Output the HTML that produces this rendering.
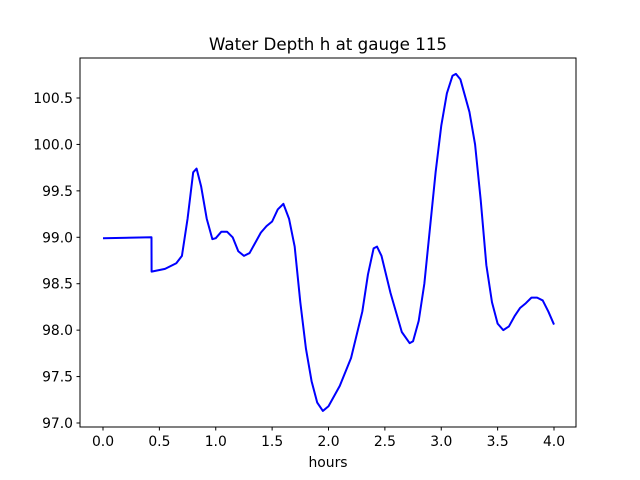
<!DOCTYPE html>
<html><head><meta charset="utf-8"><style>body{margin:0;background:#fff}svg{display:block;font-family:"DejaVu Sans","Liberation Sans",sans-serif}</style></head>
<body>
<svg id="chart" width="640" height="480" xmlns="http://www.w3.org/2000/svg">
<rect width="640" height="480" fill="#fff"/>
<text x="328" y="50" font-size="16.7" text-anchor="middle">Water Depth h at gauge 115</text>
<g id="plot"></g>
<rect x="80" y="58" width="496" height="369" fill="none" stroke="#000" stroke-width="1"/>
<text x="328" y="467" font-size="13.9" text-anchor="middle">hours</text>
</svg>
<script>
const hours=[0,0.43,0.431,0.55,0.65,0.7,0.75,0.8,0.83,0.87,0.92,0.97,1.0,1.05,1.1,1.15,1.2,1.25,1.3,1.4,1.45,1.5,1.55,1.6,1.65,1.7,1.75,1.8,1.85,1.9,1.95,2.0,2.1,2.2,2.3,2.35,2.4,2.43,2.47,2.55,2.65,2.72,2.75,2.8,2.85,2.9,2.95,3.0,3.05,3.1,3.13,3.17,3.25,3.3,3.35,3.4,3.45,3.5,3.55,3.6,3.65,3.7,3.75,3.8,3.85,3.9,3.95,4.0];
const depth=[98.99,99.0,98.63,98.66,98.72,98.8,99.2,99.7,99.74,99.55,99.2,98.98,98.99,99.06,99.06,99.0,98.85,98.8,98.83,99.05,99.12,99.17,99.3,99.36,99.2,98.9,98.3,97.8,97.45,97.22,97.13,97.18,97.4,97.7,98.2,98.6,98.88,98.9,98.8,98.4,97.98,97.86,97.88,98.1,98.5,99.1,99.7,100.2,100.55,100.74,100.76,100.7,100.35,100.0,99.4,98.7,98.3,98.07,98.0,98.04,98.15,98.24,98.29,98.35,98.35,98.32,98.2,98.06];
const xTicks=[0,0.5,1,1.5,2,2.5,3,3.5,4];
const xTickLabels=["0.0","0.5","1.0","1.5","2.0","2.5","3.0","3.5","4.0"];
const yTicks=[97,97.5,98,98.5,99,99.5,100,100.5];
const yTickLabels=["97.0","97.5","98.0","98.5","99.0","99.5","100.0","100.5"];
const X=v=>103+v*112.75;
const Y=v=>423-(v-97)*92.857;
const g=document.getElementById('plot');
const NS="http://www.w3.org/2000/svg";
function mk(t,a){const e=document.createElementNS(NS,t);for(const k in a)e.setAttribute(k,a[k]);g.appendChild(e);return e;}
xTicks.forEach((t,i)=>{
 const l=mk('line',{x1:X(t),x2:X(t),y1:427,y2:430.5,stroke:'#000'});
 
 
 const s=mk('text',{x:X(t),y:446,'font-size':13.9,'text-anchor':'middle'});
 s.textContent=xTickLabels[i];
 
 
});
yTicks.forEach((t,i)=>{
 const l=mk('line',{x1:76.5,x2:80,y1:Y(t),y2:Y(t),stroke:'#000'});
 
 
 const s=mk('text',{x:73,y:Y(t)+5,'font-size':13.9,'text-anchor':'end'});
 s.textContent=yTickLabels[i];
 
 
});
const p=mk('polyline',{points:hours.map((h,i)=>X(h)+','+Y(depth[i])).join(' '),fill:'none',stroke:'#0000ff','stroke-width':2,'stroke-linejoin':'round'});


</script>
</body></html>
